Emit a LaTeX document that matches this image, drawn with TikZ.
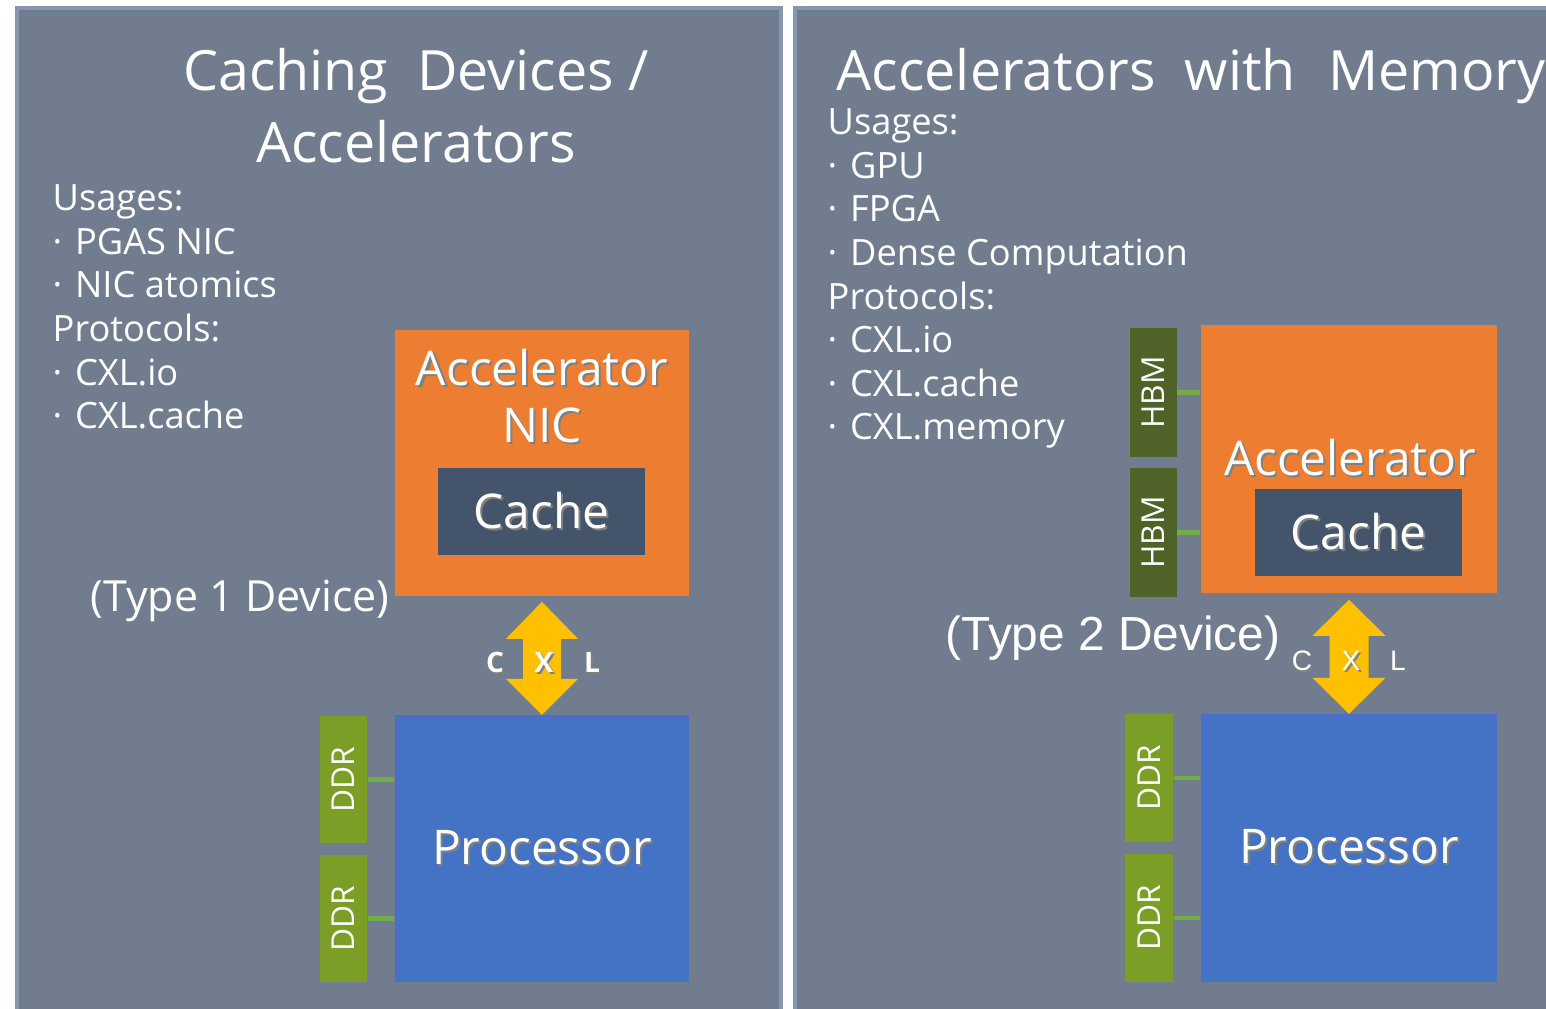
\documentclass[tikz,border=0pt]{standalone}
\usepackage{fontspec}
\setmainfont{Open Sans}
\newfontfamily\arialfont{Liberation Sans}
\usetikzlibrary{calc}

\definecolor{panelfill}{HTML}{717D8E}
\definecolor{panelline}{HTML}{8597B0}
\definecolor{accorange}{HTML}{ED7D31}
\definecolor{cachefill}{HTML}{44546A}
\definecolor{procblue}{HTML}{4472C4}
\definecolor{cxlyellow}{HTML}{FFC000}
\definecolor{ddrgreen}{HTML}{7B9E27}
\definecolor{hbmgreen}{HTML}{4F6228}
\definecolor{linkgreen}{HTML}{70AD47}

% white text with a soft drop shadow
\newcommand{\shd}[1]{\leavevmode\rlap{\hspace{0.6pt}\raisebox{-0.6pt}{\color{black!50}#1}}#1}
\newcommand{\bul}{\makebox[0.62em][l]{\textperiodcentered}}

\tikzset{
	panel/.style={fill=panelfill, draw=panelline, line width=1pt},
	titletext/.style={text=white, font=\fontsize{15.8}{20.2}\selectfont, inner sep=0pt, align=center},
	listtext/.style={text=white, font=\fontsize{10.3}{12.4}\selectfont, align=left, inner sep=0pt},
	boxlabel/.style={text=white, font=\fontsize{13.6}{16.2}\selectfont, align=center, inner sep=0pt},
	accbox/.style={fill=accorange, inner sep=0pt},
	cachebox/.style={fill=cachefill, minimum width=2.07cm, minimum height=0.87cm, inner sep=0pt, text=white, font=\fontsize{13.6}{15}\selectfont},
	procbox/.style={fill=procblue, inner sep=0pt, text=white, font=\fontsize{13.6}{15}\selectfont},
	membox/.style={minimum width=0.47cm, minimum height=1.27cm, inner sep=0pt, text=white, font=\fontsize{9}{10}\selectfont},
	ddrbox/.style={membox, fill=ddrgreen},
	hbmbox/.style={membox, fill=hbmgreen, minimum height=1.29cm},
	memlink/.style={draw=linkgreen, line width=1.2pt},
	cxlarrow/.style={fill=cxlyellow},
	cxlletter/.style={text=white, inner sep=0pt, anchor=base, font=\fontsize{8}{9}\selectfont\bfseries},
	cxlletterB/.style={text=white, inner sep=0pt, anchor=base, font=\arialfont\fontsize{8}{9}\selectfont},
}

\begin{document}
\begin{tikzpicture}[x=0.01cm, y=-0.01cm]
	\clip (0,0) rectangle (1546,1008);
	\fill[white] (0,0) rectangle (1546,1008);
	%Panels
	\draw[panel] (17,8) rectangle (781,1014);
	\draw[panel] (795,8) rectangle (1560,1014);
	%Titles (base anchor sits on the last line)
	\node[titletext, anchor=base] (titleA) at (416,162) {Caching~~Devices /\\Accelerators};
	\node[titletext, anchor=base west] (titleB) at (836,90) {Accelerators~~with~~\hspace{1pt}Memory};
	%Lists
	\node[listtext, anchor=north west] (listA) at (52,184) {Usages:\\\bul PGAS NIC\\\bul NIC atomics\\Protocols:\\\bul CXL.io\\\bul CXL.cache};
	\node[listtext, anchor=north west] (listB) at (827,108) {Usages:\\\bul GPU\\\bul FPGA\\\bul Dense Computation\\Protocols:\\\bul CXL.io\\\bul CXL.cache\\\bul CXL.memory};
	%Type 1 device
	\node[accbox, minimum width=2.94cm, minimum height=2.66cm] (accA) at (542,463) {};
	\node[boxlabel, anchor=base] (accAtext) at (542,442) {\shd{Accelerator}\\\shd{NIC}};
	\node[cachebox] (cacheA) at (541.5,511.5) {\shd{Cache}};
	\node[procbox, minimum width=2.94cm, minimum height=2.67cm] (procA) at (542,848.5) {\shd{Processor}};
	\node[ddrbox] (ddrA1) at (343.5,779.5) {\rotatebox{90}{DDR}};
	\node[ddrbox] (ddrA2) at (343.5,918.5) {\rotatebox{90}{DDR}};
	\draw[memlink] (ddrA1.east) -- (ddrA1.east -| procA.west);
	\draw[memlink] (ddrA2.east) -- (ddrA2.east -| procA.west);
	\node[boxlabel, anchor=base, font=\fontsize{12.2}{15}\selectfont] (typeA) at (240,611) {(Type 1 Device)};
	%CXL link, type 1
	\fill[cxlarrow] ($(accA.south)+(0,5)$) -- ++(36,37) -- ++(-17,0) -- ++(0,40) -- ++(17,0) -- ++(-36,36) -- ++(-36,-36) -- ++(17,0) -- ++(0,-40) -- ++(-17,0) -- cycle;
	\node[cxlletter] (cA) at (495,672) {\shd{C}};
	\node[cxlletter] (xA) at (544,672) {\shd{X}};
	\node[cxlletter] (lA) at (592,672) {\shd{L}};
	%Type 2 device
	\node[accbox, minimum width=2.96cm, minimum height=2.68cm] (accB) at (1349,459) {};
	\node[boxlabel, anchor=base] (accBtext) at (1350,475) {\shd{Accelerator}};
	\node[cachebox] (cacheB) at (1358.5,532.5) {\shd{Cache}};
	\node[procbox, minimum width=2.96cm, minimum height=2.68cm] (procB) at (1349,848) {\shd{Processor}};
	\node[hbmbox] (hbmB1) at (1153,392.5) {\rotatebox{90}{HBM}};
	\node[hbmbox] (hbmB2) at (1153,532.5) {\rotatebox{90}{HBM}};
	\draw[memlink] (hbmB1.east) -- (hbmB1.east -| accB.west);
	\draw[memlink] (hbmB2.east) -- (hbmB2.east -| accB.west);
	\node[ddrbox, minimum width=0.48cm, minimum height=1.28cm] (ddrB1) at (1149,778) {\rotatebox{90}{DDR}};
	\node[ddrbox, minimum width=0.48cm, minimum height=1.28cm] (ddrB2) at (1149,918) {\rotatebox{90}{DDR}};
	\draw[memlink] (ddrB1.east) -- (ddrB1.east -| procB.west);
	\draw[memlink] (ddrB2.east) -- (ddrB2.east -| procB.west);
	\node[boxlabel, anchor=base, font=\arialfont\fontsize{13.6}{15}\selectfont] (typeB) at (1113,650) {(Type 2 Device)};
	%CXL link, type 2
	\fill[cxlarrow] ($(accB.south)+(0,6)$) -- ++(36.5,36) -- ++(-17,0) -- ++(0,42) -- ++(17,0) -- ++(-36.5,36) -- ++(-36.5,-36) -- ++(17,0) -- ++(0,-42) -- ++(-17,0) -- cycle;
	\node[cxlletterB] (cB) at (1302,670) {\shd{C}};
	\node[cxlletterB] (xB) at (1351,670) {\shd{X}};
	\node[cxlletterB] (lB) at (1398,670) {\shd{L}};
\end{tikzpicture}
\end{document}
